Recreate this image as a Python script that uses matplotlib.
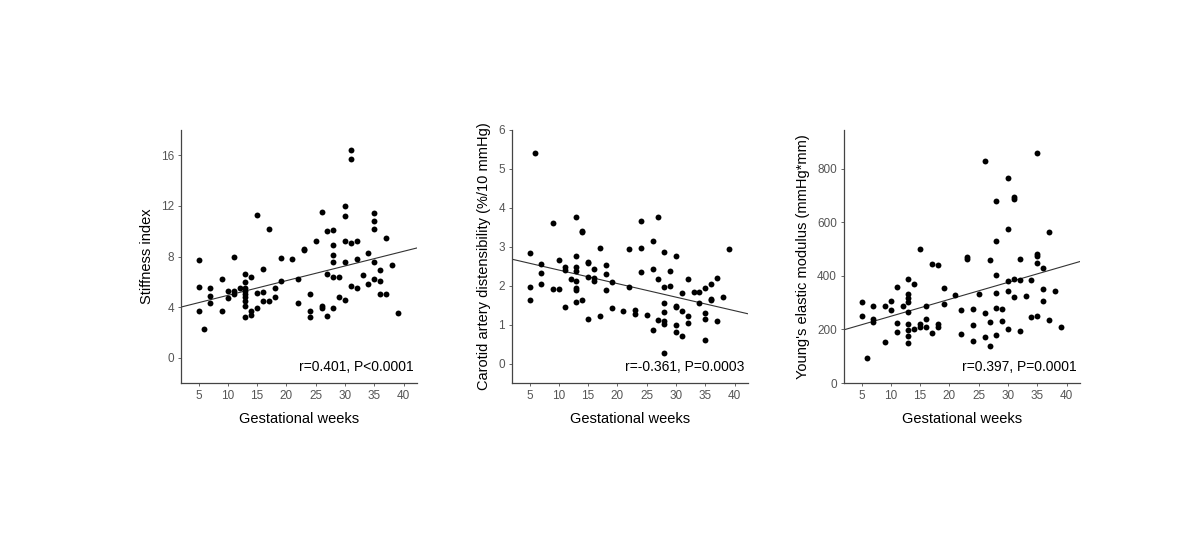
import numpy as np
import matplotlib
matplotlib.use("Agg")
import matplotlib.pyplot as plt

plt.rcParams['font.family'] = ['Liberation Sans', 'DejaVu Sans']

# stiffness index vs gestational weeks
weeks_si = [5, 5, 5, 6, 7, 7, 7, 9, 9, 10, 10, 11, 11, 11, 12,
            13, 13, 13, 13, 13, 13, 13, 13, 13, 14, 14, 14, 15, 15, 15,
            16, 16, 16, 17, 17, 18, 18, 19, 19, 21, 22, 22, 23, 23,
            24, 24, 24, 25, 26, 26, 26, 27, 27, 27,
            28, 28, 28, 28, 28, 28, 29, 29, 30, 30, 30, 30, 30,
            31, 31, 31, 31, 32, 32, 32, 33, 34, 34,
            35, 35, 35, 35, 35, 36, 36, 36, 37, 37, 38, 39]
stiffness = [7.7, 5.6, 3.7, 2.3, 5.5, 4.9, 4.3, 6.2, 3.7, 5.3, 4.7, 8.0, 5.3, 5.0, 5.5,
             6.6, 6.0, 5.5, 5.3, 5.0, 4.8, 4.5, 4.1, 3.2, 6.4, 3.7, 3.4, 11.3, 5.1, 3.9,
             7.0, 5.2, 4.5, 10.2, 4.5, 5.5, 4.8, 7.9, 6.1, 7.8, 6.2, 4.3, 8.6, 8.5,
             5.0, 3.7, 3.2, 9.2, 11.5, 4.1, 3.9, 10.0, 6.6, 3.3,
             10.1, 8.9, 8.1, 7.6, 6.4, 3.9, 6.4, 4.8, 12.0, 11.2, 9.2, 7.6, 4.6,
             16.4, 15.7, 9.1, 5.7, 9.2, 7.8, 5.5, 6.5, 8.3, 5.8,
             11.4, 10.8, 10.2, 7.6, 6.2, 6.9, 6.1, 5.0, 9.5, 5.0, 7.3, 3.5]

# carotid distensibility vs gestational weeks
weeks_cd = [5, 5, 5, 6, 7, 7, 7, 9, 9, 10, 10, 11, 11, 11, 12,
            13, 13, 13, 13, 13, 13, 13, 13, 14, 14, 14, 15, 15, 15, 15,
            16, 16, 16, 17, 17, 18, 18, 18, 19, 19, 21, 22, 22, 23, 23,
            24, 24, 24, 25, 26, 26, 26, 27, 27, 27,
            28, 28, 28, 28, 28, 28, 28, 29, 29, 30, 30, 30, 30, 30,
            31, 31, 31, 32, 32, 32, 33, 34, 34,
            35, 35, 35, 35, 36, 36, 36, 37, 37, 38, 39]
distens = [2.83, 1.96, 1.63, 5.40, 2.56, 2.33, 2.05, 3.62, 1.91, 2.67, 1.91, 2.47, 2.40, 1.46, 2.18,
           3.77, 2.76, 2.48, 2.38, 2.13, 1.94, 1.90, 1.58, 3.40, 3.37, 1.63, 2.61, 2.58, 2.23, 1.14,
           2.42, 2.19, 2.12, 2.98, 1.21, 2.53, 2.30, 1.89, 2.09, 1.43, 1.36, 2.95, 1.97, 1.37, 1.28,
           3.66, 2.96, 2.36, 1.24, 3.14, 2.44, 0.87, 3.77, 2.18, 1.13,
           2.87, 1.97, 1.55, 1.33, 1.10, 1.01, 0.26, 2.37, 1.98, 2.76, 1.49, 1.46, 0.98, 0.82,
           1.81, 1.34, 0.72, 2.18, 1.22, 1.03, 1.84, 1.84, 1.56,
           1.95, 1.30, 1.14, 0.60, 2.04, 1.65, 1.62, 2.20, 1.09, 1.71, 2.94]

# Young's elastic modulus vs gestational weeks
weeks_ym = [5, 5, 6, 7, 7, 7, 9, 9, 10, 10, 11, 11, 11, 12,
            13, 13, 13, 13, 13, 13, 13, 13, 13, 14, 14, 15, 15, 15,
            16, 16, 16, 17, 17, 18, 18, 18, 19, 19, 21, 22, 22, 23, 23,
            24, 24, 24, 25, 26, 26, 26, 27, 27, 27,
            28, 28, 28, 28, 28, 28, 29, 29, 30, 30, 30, 30, 30,
            31, 31, 31, 31, 32, 32, 32, 33, 34, 34,
            35, 35, 35, 35, 35, 36, 36, 36, 37, 37, 38, 39]
youngs = [303, 250, 94, 288, 240, 227, 288, 155, 307, 272, 357, 225, 189, 287,
          388, 333, 319, 301, 265, 222, 199, 176, 148, 368, 200, 499, 220, 211,
          289, 240, 211, 445, 186, 442, 222, 210, 354, 294, 330, 272, 184, 472, 462,
          276, 215, 158, 332, 831, 262, 171, 458, 226, 140,
          678, 530, 405, 337, 281, 178, 278, 230, 765, 574, 381, 345, 201,
          693, 687, 390, 322, 465, 385, 194, 324, 385, 247,
          860, 480, 473, 448, 252, 429, 352, 306, 565, 235, 344, 210]

# regression lines (intercept, slope)
fit_si = (3.77, 0.116)
fit_cd = (2.75, -0.0348)
fit_ym = (186.0, 6.33)

ylabels = ['Stiffness index', 'Carotid artery distensibility (%/10 mmHg)',
           "Young's elastic modulus (mmHg*mm)"]
notes = ['r=0.401, P<0.0001', 'r=-0.361, P=0.0003', 'r=0.397, P=0.0001']
yticks = [[0, 4, 8, 12, 16], [0, 1, 2, 3, 4, 5, 6], [0, 200, 400, 600, 800]]
ylims = [(-2, 18), (-0.5, 6.0), (0, 945)]
xticks = [5, 10, 15, 20, 25, 30, 35, 40]

fig = plt.figure(figsize=(11.8, 5.6), dpi=100)
lefts = [181, 512, 844]
xs = [weeks_si, weeks_cd, weeks_ym]
ys = [stiffness, distens, youngs]
fits = [fit_si, fit_cd, fit_ym]

for i in range(3):
    ax = fig.add_axes([lefts[i] / 1180, 1 - 383 / 560, 236 / 1180, 253 / 560])
    ax.scatter(xs[i], ys[i], s=18, color='black', zorder=3, linewidths=0)
    lx = np.array([2.0, 42.3])
    ax.plot(lx, fits[i][0] + fits[i][1] * lx, color='#333333', lw=0.8)
    ax.set_xlim(2.0, 42.3)
    ax.set_ylim(*ylims[i])
    ax.set_xticks(xticks)
    ax.set_yticks(yticks[i])
    for s in ['top', 'right']:
        ax.spines[s].set_visible(False)
    for s in ['left', 'bottom']:
        ax.spines[s].set_color('#444444')
        ax.spines[s].set_linewidth(0.9)
    ax.tick_params(axis='both', labelsize=8.5, labelcolor='#555555', color='#666666',
                   length=2.5, width=0.7, pad=2.5)
    ax.set_xlabel('Gestational weeks', fontsize=10.5, labelpad=7)
    ax.set_ylabel(ylabels[i], fontsize=10.5, labelpad=5)
    ax.text(0.985, 0.035, notes[i], transform=ax.transAxes, ha='right', va='bottom',
            fontsize=10)

plt.savefig('out.png', dpi=100)
